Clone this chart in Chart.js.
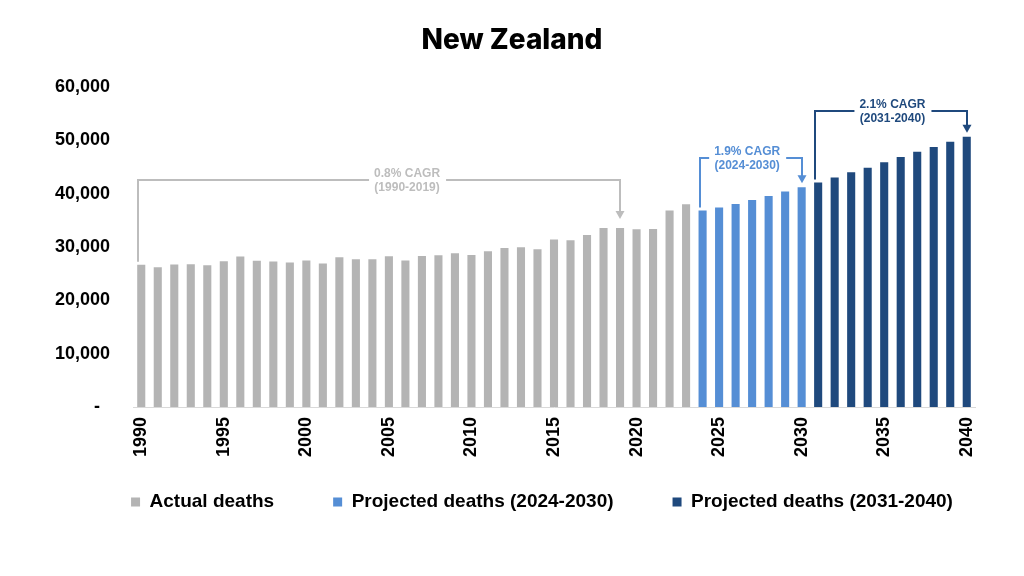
<!DOCTYPE html>
<html>
<head>
<meta charset="utf-8">
<title>New Zealand deaths</title>
<script src="https://cdn.jsdelivr.net/npm/chart.js@4.4.1/dist/chart.umd.min.js"></script>
<style>
  html, body { margin: 0; padding: 0; background: #fff; }
  #wrap { width: 1024px; height: 576px; }
</style>
</head>
<body>
<div id="wrap"><canvas id="chart" width="1024" height="576"></canvas></div>
<script>
// Years on the x axis
const years = [
  1990, 1991, 1992, 1993, 1994, 1995, 1996, 1997, 1998, 1999,
  2000, 2001, 2002, 2003, 2004, 2005, 2006, 2007, 2008, 2009,
  2010, 2011, 2012, 2013, 2014, 2015, 2016, 2017, 2018, 2019,
  2020, 2021, 2022, 2023, 2024, 2025, 2026, 2027, 2028, 2029,
  2030, 2031, 2032, 2033, 2034, 2035, 2036, 2037, 2038, 2039, 2040
];

// Actual deaths 1990-2023
const actualDeaths = [
  26650, 26200, 26720, 26780, 26590, 27340, 28220, 27400, 27280, 27100,
  27470, 26900, 28090, 27720, 27720, 28280, 27470, 28330, 28440, 28840,
  28520, 29210, 29830, 29960, 29590, 31400, 31270, 32270, 33580, 33580,
  33330, 33390, 36830, 38010
];
// Projected deaths 2024-2030
const projectedA = [36830, 37400, 38070, 38820, 39570, 40390, 41200];
// Projected deaths 2031-2040
const projectedB = [42080, 43010, 44010, 44880, 45880, 46870, 47880, 48750, 49750, 50690];

const seriesNames = ['Actual deaths', 'Projected deaths (2024-2030)', 'Projected deaths (2031-2040)'];
const yTicks = [0, 10000, 20000, 30000, 40000, 50000, 60000];

// CAGR brackets: years spanned, height of the bracket (in deaths), label
const cagrNotes = [
  { from: 1990, to: 2019, level: 42500, labelAt: 2006.1, lines: ['0.8% CAGR', '(1990-2019)'], color: '#bdbdbd', tipGap: 9 },
  { from: 2024, to: 2030, level: 46600, labelAt: 2026.7, lines: ['1.9% CAGR', '(2024-2030)'], color: '#558ed5', tipGap: 4 },
  { from: 2031, to: 2040, level: 55500, labelAt: 2035.5, lines: ['2.1% CAGR', '(2031-2040)'], color: '#1f497d', tipGap: 4 }
];

const colors = ['#b4b4b4', '#558ed5', '#1f497d'];
const FONT = '"Liberation Sans", Arial, Helvetica, sans-serif';

// put each series at its own years, null elsewhere
function spread(values, startYear) {
  const start = years.indexOf(startYear);
  return years.map((y, i) => (i >= start && i < start + values.length) ? values[i - start] : null);
}

const cagrBrackets = {
  id: 'cagrBrackets',
  afterDatasetsDraw(chart) {
    const { ctx, scales: { x, y } } = chart;
    const halfW = chart.getDatasetMeta(0).data[0].width / 2;
    const valueAt = i => chart.data.datasets.map(d => d.data[i]).find(v => v != null);
    cagrNotes.forEach(n => {
      const i0 = years.indexOf(n.from);
      const i1 = years.indexOf(n.to);
      const xL = Math.round(x.getPixelForValue(i0) - halfW) + 1;
      const xR = Math.round(x.getPixelForValue(i1));
      const yStart = y.getPixelForValue(valueAt(i0)) - 3;
      const yTip = y.getPixelForValue(valueAt(i1)) - n.tipGap;
      const yLine = Math.round(y.getPixelForValue(n.level));
      const xText = x.getPixelForValue(n.labelAt - years[0]);

      ctx.save();
      ctx.font = 'bold 12px ' + FONT;
      const tw = Math.max(...n.lines.map(t => ctx.measureText(t).width));
      ctx.strokeStyle = n.color;
      ctx.lineWidth = 2;
      ctx.lineJoin = 'miter';
      ctx.beginPath();
      ctx.moveTo(xL, yStart);
      ctx.lineTo(xL, yLine);
      ctx.lineTo(xText - tw / 2 - 5, yLine);
      ctx.moveTo(xText + tw / 2 + 6, yLine);
      ctx.lineTo(xR, yLine);
      ctx.lineTo(xR, yTip - 7);
      ctx.stroke();
      // arrow head
      ctx.fillStyle = n.color;
      ctx.beginPath();
      ctx.moveTo(xR - 4.5, yTip - 8);
      ctx.lineTo(xR + 4.5, yTip - 8);
      ctx.lineTo(xR, yTip);
      ctx.closePath();
      ctx.fill();
      // label
      ctx.textAlign = 'center';
      ctx.textBaseline = 'middle';
      ctx.fillText(n.lines[0], xText, yLine - 6);
      ctx.fillText(n.lines[1], xText, yLine + 8);
      ctx.restore();
    });
  }
};

// move the legend to where it sits in the original
const legendNudge = {
  id: 'legendNudge',
  afterLayout(chart) {
    const l = chart.legend;
    l.left += 30; l.right += 30;
    l.top -= 28.5; l.bottom -= 28.5;
  }
};

new Chart(document.getElementById('chart'), {
  type: 'bar',
  data: {
    labels: years,
    datasets: [
      { label: seriesNames[0], data: spread(actualDeaths, 1990), backgroundColor: colors[0] },
      { label: seriesNames[1], data: spread(projectedA, 2024), backgroundColor: colors[1] },
      { label: seriesNames[2], data: spread(projectedB, 2031), backgroundColor: colors[2] }
    ]
  },
  options: {
    responsive: false,
    animation: false,
    devicePixelRatio: 1,
    datasets: {
      bar: { barPercentage: 0.49, categoryPercentage: 1, borderWidth: 0 }
    },
    layout: { padding: { left: 0, right: 0, top: 0, bottom: 26 } },
    scales: {
      x: {
        stacked: true,
        grid: { display: false, drawTicks: false },
        border: { display: true, color: '#d9d9d9', width: 1 },
        ticks: {
          autoSkip: false,
          minRotation: 90,
          maxRotation: 90,
          padding: 10,
          color: '#000',
          font: { family: FONT, size: 18, weight: 'bold' },
          callback: (v, i) => (years[i] % 5 === 0 ? String(years[i]) : '')
        },
        afterFit(s) { s.height = 55; }
      },
      y: {
        stacked: true,
        min: 0,
        max: 60000,
        afterBuildTicks(s) { s.ticks = yTicks.map(v => ({ value: v })); },
        grid: { display: false, drawTicks: false },
        border: { display: false },
        ticks: {
          padding: 23,
          color: '#000',
          font: { family: FONT, size: 18, weight: 'bold' },
          callback: v => (v === 0 ? '-  ' : v.toLocaleString('en-US'))
        },
        afterFit(s) { s.width = 133; }
      },
      yRight: {
        position: 'right',
        grid: { display: false, drawTicks: false },
        border: { display: false },
        ticks: { display: false },
        afterFit(s) { s.width = 49; }
      }
    },
    plugins: {
      title: {
        display: true,
        text: 'New Zealand',
        color: '#000',
        font: { family: 'Inter, "Open Sans", sans-serif', size: 28, weight: 800 },
        padding: { top: 24, bottom: 29.4 }
      },
      legend: {
        position: 'bottom',
        labels: {
          boxWidth: 9,
          boxHeight: 9,
          padding: 59,
          color: '#000',
          font: { family: FONT, size: 19, weight: 'bold' }
        }
      },
      tooltip: { enabled: false }
    }
  },
  plugins: [cagrBrackets, legendNudge]
});
</script>
</body>
</html>
